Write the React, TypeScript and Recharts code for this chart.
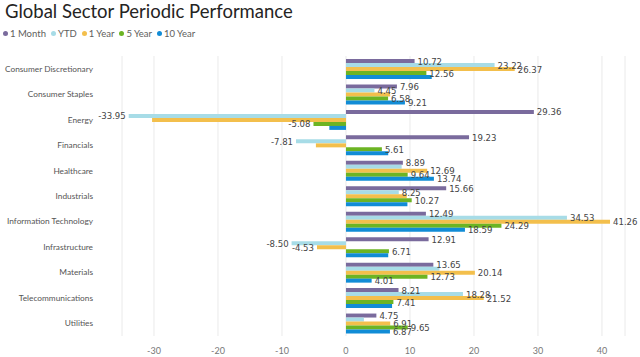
import React from 'react';
import { BarChart, Bar, XAxis, YAxis, CartesianGrid, LabelList } from 'recharts';

const categories = [
  'Consumer Discretionary',
  'Consumer Staples',
  'Energy',
  'Financials',
  'Healthcare',
  'Industrials',
  'Information Technology',
  'Infrastructure',
  'Materials',
  'Telecommunications',
  'Utilities',
];

const oneMonth = [10.72, 7.96, 29.36, 19.23, 8.89, 15.66, 12.49, 12.91, 13.65, 8.21, 4.75];
const ytd = [23.22, 4.45, -33.95, -7.81, 8.7, 8.25, 34.53, -8.5, 14.6, 18.28, 2.8];
const oneYear = [26.37, 6.9, -30.3, -4.7, 12.69, 9.5, 41.26, -4.53, 20.14, 21.52, 6.91];
const fiveYear = [12.56, 6.58, -5.08, 5.61, 9.64, 10.27, 24.29, 6.71, 12.73, 7.41, 9.65];
const tenYear = [13.4, 9.21, -2.6, 6.6, 13.74, 9.6, 18.59, 6.6, 4.01, 7.2, 6.87];

// which values Power BI left without a data label
const unlabelled = [
  'Consumer Discretionary|tenYear',
  'Consumer Staples|oneYear',
  'Energy|oneYear',
  'Energy|tenYear',
  'Financials|oneYear',
  'Financials|tenYear',
  'Healthcare|ytd',
  'Industrials|oneYear',
  'Industrials|tenYear',
  'Infrastructure|tenYear',
  'Materials|ytd',
  'Telecommunications|tenYear',
  'Utilities|ytd',
];

const xTicks = [-30, -20, -10, 0, 10, 20, 30, 40];

const series = [
  { key: 'oneMonth', name: '1 Month', color: '#7A6B9D' },
  { key: 'ytd', name: 'YTD', color: '#A7DCE7' },
  { key: 'oneYear', name: '1 Year', color: '#F3BF4C' },
  { key: 'fiveYear', name: '5 Year', color: '#6CB423' },
  { key: 'tenYear', name: '10 Year', color: '#118CD6' },
];

const data = categories.map((c, i) => ({
  category: c,
  oneMonth: oneMonth[i],
  ytd: ytd[i],
  oneYear: oneYear[i],
  fiveYear: fiveYear[i],
  tenYear: tenYear[i],
}));

const makeLabel = (key: string) => (props: any) => {
  const { x, y, width, height, value, index } = props;
  const cat = categories[index];
  if (unlabelled.includes(cat + '|' + key)) return null;
  const left = Math.min(x, x + width);
  const right = Math.max(x, x + width);
  const neg = value < 0;
  return (
    <text
      x={neg ? left - 3 : right + 3}
      y={y + height / 2 + 3.5}
      textAnchor={neg ? 'end' : 'start'}
      fontSize={9.5}
      fontFamily="'DejaVu Sans Condensed', 'Liberation Sans Narrow', sans-serif"
      fill="#444"
    >
      {value.toFixed(2)}
    </text>
  );
};

const CategoryTick = (props: any) => {
  const { y, payload } = props;
  return (
    <text x={93} y={y + 3} textAnchor="end" fontSize={8.3} fontFamily="Lato, sans-serif" fill="#555">
      {payload.value}
    </text>
  );
};

export default function App() {
  return (
    <div style={{ position: 'absolute', left: 0, top: 0, width: 640, height: 357, background: '#fff', fontFamily: 'Lato, sans-serif' }}>
      <div style={{ position: 'absolute', left: 5, top: 0, fontSize: 18.5, color: '#252423', whiteSpace: 'nowrap' }}>
        Global Sector Periodic Performance
      </div>
      <div style={{ position: 'absolute', left: 3, top: 28, display: 'flex', fontSize: 9.5, color: '#605E5C' }}>
        {series.map((s) => (
          <div key={s.key} style={{ display: 'flex', alignItems: 'center', marginRight: 5 }}>
            <span style={{ width: 5, height: 5, borderRadius: 3, background: s.color, marginRight: 2 }} />
            {s.name}
          </div>
        ))}
      </div>
      <BarChart
        width={640}
        height={357}
        data={data}
        layout="vertical"
        margin={{ top: 56, right: 15, bottom: 0, left: 0 }}
        barGap={0}
        barSize={4}
      >
        <CartesianGrid horizontal={false} stroke="#EAEAEA" strokeDasharray="" />
        <XAxis
          type="number"
          domain={[-35, 43.6]}
          ticks={xTicks}
          axisLine={false}
          tickLine={false}
          tick={{ fill: '#777', fontSize: 9 }}
          height={21}
          tickMargin={6}
        />
        <YAxis
          type="category"
          dataKey="category"
          width={122}
          axisLine={false}
          tickLine={false}
          tick={<CategoryTick />}
          interval={0}
        />
        {series.map((s) => (
          <Bar key={s.key} dataKey={s.key} fill={s.color} isAnimationActive={false}>
            <LabelList dataKey={s.key} content={makeLabel(s.key)} />
          </Bar>
        ))}
      </BarChart>
    </div>
  );
}
